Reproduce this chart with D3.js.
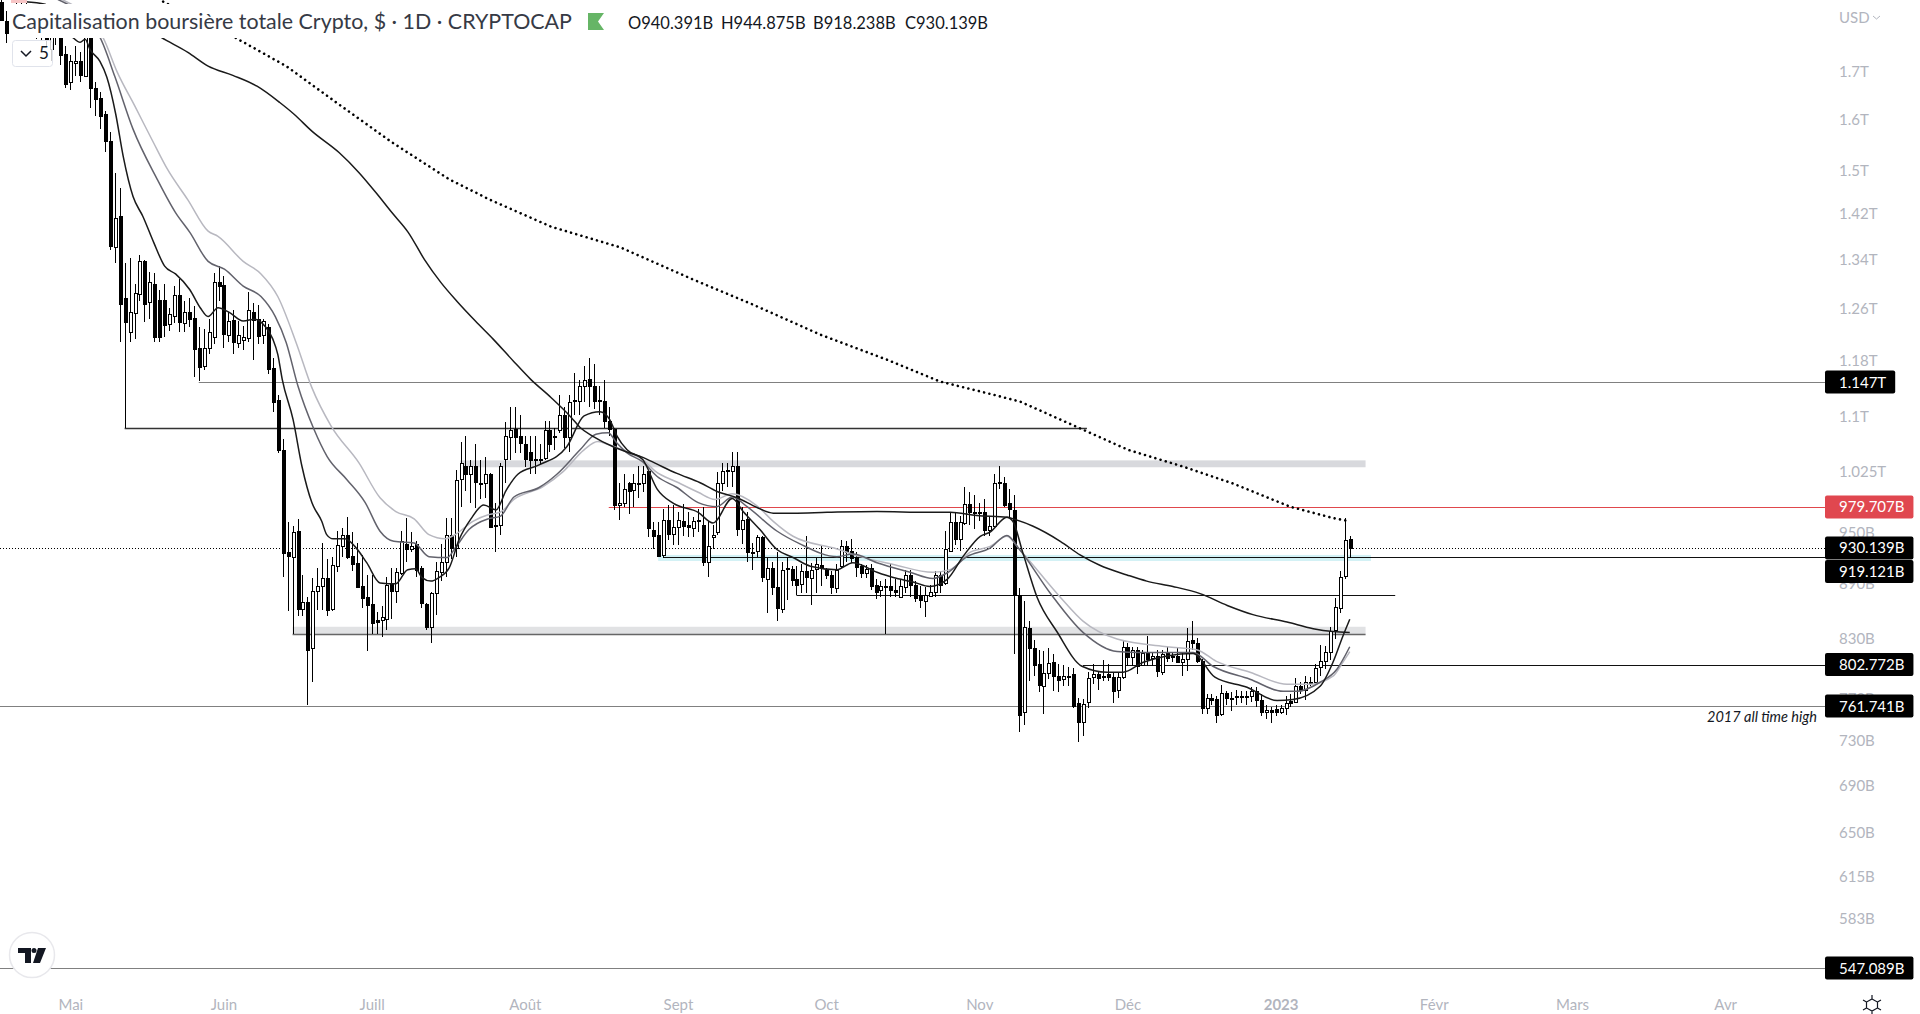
<!DOCTYPE html>
<html>
<head>
<meta charset="utf-8">
<title>Capitalisation boursière totale Crypto</title>
<script src="https://cdn.jsdelivr.net/npm/d3@7"></script>
<style>
  html, body { margin: 0; padding: 0; background: #fff; overflow: hidden; }
  svg { display: block; }
  text { font-family: Lato, "Open Sans", sans-serif; }
</style>
</head>
<body>
<script>
var w = 1920;
var h = 1014;

// Daily candles, first value is 14 days before 1 May 2022, last is 15 Jan 2023
var firstDay = -14;
var opens = [
  1855,1810,1792,1842,1801,1835,1790,1815,1782,1826,
  1746,1814,1803,1737,1675,1717,1722,1688,1792,1663,
  1643,1609,1555,1361,1414,1275,1222,1251,1281,1336,
  1268,1299,1273,1273,1234,1246,1280,1237,1254,1243,
  1197,1170,1197,1214,1301,1296,1218,1240,1206,1211,
  1214,1254,1242,1218,1229,1167,1122,1053,925,920,
  950,861,869,820,880,886,895,861,909,933,
  946,921,913,887,874,867,849,849,851,889,
  881,901,935,929,935,907,867,842,879,903,
  913,945,930,1015,1031,1020,1031,1010,1009,1021,
  956,957,1040,1070,1081,1071,1061,1050,1041,1041,
  1041,1079,1071,1079,1101,1071,1120,1119,1141,1151,
  1141,1121,1120,1092,1081,982,984,1010,1001,1010,
  1010,1025,952,946,921,963,946,955,962,957,
  954,963,957,913,944,949,1010,1025,1025,1031,
  952,965,926,926,943,895,907,885,862,906,
  906,894,888,903,896,905,910,905,899,885,
  909,932,927,920,909,902,907,888,881,886,
  887,882,874,886,899,888,877,869,876,880,
  899,890,926,961,941,960,983,973,973,973,
  951,956,1011,1010,984,976,877,756,841,820,
  803,781,794,805,791,788,791,793,765,747,
  765,790,793,791,793,790,777,790,821,811,
  818,803,815,809,811,796,816,811,811,805,
  808,828,825,806,760,770,769,754,774,770,
  771,771,771,771,776,768,756,758,759,756,
  760,767,765,781,777,785,785,800,807,816,
  838,863,897,940.391
];
var highs = [
  1860,1833,1846,1855,1855,1855,1846,1838,1832,1846,
  1832,1842,1826,1753,1735,1753,1740,1815,1805,1675,
  1654,1615,1573,1493,1465,1334,1341,1298,1346,1338,
  1319,1316,1289,1298,1260,1295,1306,1270,1276,1262,
  1229,1226,1242,1316,1328,1311,1254,1257,1239,1231,
  1285,1268,1265,1242,1234,1183,1128,1067,961,956,
  965,899,874,895,907,936,917,920,950,954,
  967,949,936,922,899,899,858,864,897,907,
  907,950,966,949,938,909,868,880,914,935,
  966,966,1027,1063,1071,1040,1061,1040,1043,1022,
  985,1036,1090,1111,1111,1101,1071,1071,1071,1061,
  1092,1092,1083,1129,1111,1129,1161,1150,1170,1182,
  1173,1141,1150,1111,1082,1010,1021,1011,1021,1031,
  1031,1026,961,961,977,982,982,974,983,973,
  967,977,980,962,958,1024,1035,1036,1050,1050,
  979,973,936,946,944,919,914,926,914,920,
  909,909,911,944,913,919,933,907,903,912,
  939,938,941,926,912,910,912,894,892,894,
  913,894,894,905,905,892,886,885,888,903,
  903,950,973,973,968,1004,998,995,985,990,
  968,1021,1031,1017,1002,995,884,870,848,828,
  818,817,820,813,803,802,800,799,770,769,
  795,803,796,807,803,795,795,828,825,821,
  821,818,832,816,818,818,821,816,821,815,
  841,848,830,808,773,773,771,782,776,775,
  777,776,776,780,780,773,763,761,763,763,
  771,773,789,785,791,790,803,823,822,842,
  873,903,966,944.875
];
var lows = [
  1810,1760,1778,1778,1785,1774,1776,1770,1768,1751,
  1720,1757,1712,1663,1658,1688,1675,1686,1621,1605,
  1579,1535,1356,1334,1206,1083,1206,1211,1270,1237,
  1242,1207,1207,1214,1223,1236,1222,1222,1229,1154,
  1148,1164,1188,1203,1270,1198,1206,1188,1198,1195,
  1207,1179,1203,1203,1159,1105,1049,897,859,834,
  853,854,763,785,860,860,853,859,902,920,
  917,903,885,862,817,834,834,831,839,850,
  868,899,914,925,897,862,839,825,855,892,
  897,917,920,979,1000,985,978,990,991,954,
  925,946,1010,1040,1049,1049,1030,1021,1021,1034,
  1039,1050,1053,1076,1056,1050,1101,1101,1119,1112,
  1108,1101,1082,1071,976,963,979,971,979,991,
  998,943,929,920,919,940,934,934,944,943,
  943,949,909,897,929,946,1000,1005,1005,944,
  935,914,905,920,891,857,876,848,857,871,
  886,877,879,879,866,879,887,894,878,879,
  907,914,913,897,895,896,882,872,874,834,
  874,874,873,879,874,869,862,852,874,874,
  879,888,925,934,927,958,958,953,962,944,
  944,955,1002,980,967,813,737,744,786,791,
  775,754,788,776,775,781,781,760,728,733,
  760,783,777,786,786,765,770,788,801,801,
  793,801,801,801,790,792,805,805,804,791,
  796,818,804,754,754,763,746,752,763,757,
  763,765,763,766,761,752,749,746,752,754,
  753,761,765,773,768,781,782,791,798,807,
  829,857,894,918.238
];
var closes = [
  1814,1782,1826,1796,1837,1790,1815,1785,1810,1769,
  1803,1773,1733,1673,1720,1721,1692,1792,1663,1641,
  1607,1555,1361,1411,1265,1237,1253,1283,1336,1265,
  1301,1215,1215,1234,1250,1280,1237,1254,1243,1195,
  1169,1197,1222,1301,1295,1218,1239,1206,1218,1215,
  1257,1242,1215,1239,1166,1118,1053,925,920,949,
  861,869,818,881,886,895,860,910,934,946,
  920,912,886,874,865,846,847,852,888,881,
  902,938,929,933,905,868,842,879,904,914,
  945,930,1014,1036,1020,1031,1010,1009,1021,955,
  957,1031,1071,1079,1070,1061,1041,1040,1041,1040,
  1079,1060,1070,1100,1071,1119,1121,1141,1150,1141,
  1120,1120,1092,1081,982,984,1002,1000,1010,1009,
  1021,954,945,921,963,946,955,963,956,954,
  962,964,913,932,946,1010,1025,1026,1031,952,
  963,926,925,943,896,907,885,862,905,907,
  893,887,903,896,905,911,906,899,885,905,
  932,925,919,909,901,906,887,880,886,887,
  882,880,886,899,888,874,871,876,880,899,
  888,929,961,941,961,983,973,972,974,951,
  956,1010,1010,982,976,877,754,842,820,803,
  782,794,804,791,787,791,791,762,747,764,
  789,793,789,791,790,776,790,821,811,818,
  802,815,809,811,796,814,810,810,805,808,
  827,825,806,760,770,768,754,774,769,770,
  771,771,770,776,767,756,758,756,756,760,
  765,765,781,777,785,785,799,806,816,838,
  863,897,939,930.139
];

// Moving averages, read at irregular days (days counted from 1 May 2022)
var fastDays = [-9.2,-5.1,-2.1,0.5,2,3,4,6,7.4,9.2,10.7,12.7,14.7,16.9,19.1,21.3,24.2,26.3,27.9,29.9,32.1,35,37.4,39.4,41,42,42.9,45.1,46.9,48.9,50.9,51.9,53.2,55.6,57.6,60,62.7,65.9,68.3,69.9,71.2,73,74.6,76.7,78.7,81.1,83.7,86.2,88.2,90.6,94.9,100.5,104,107.2,109.2,110.7,112.7,115.9,118.8,122.1,127.1,130.1,134,136.2,139.6,143.1,146.3,149.8,155.2,158.4,163.3,166.6,170.6,174,177.5,180.7,184.2,186.2,189.6,190.8,192.8,195.7,199.7,204.8,209.9,213.1,217.2,227.3,231.7,238.2,244.3,247.5,253,255.6,257.6,259];
var fastValues = [1855,1849,1810,1773,1762,1769,1746,1720,1686,1609,1526,1450,1414,1368,1328,1315,1289,1260,1246,1260,1253,1239,1242,1231,1211,1188,1151,1094,1031,985,962,946,941,941,932,913,890,889,905,906,896,892,896,907,940,965,982,976,1000,1021,1033,1057,1099,1105,1094,1071,1053,1040,1002,984,973,960,990,974,952,928,919,909,905,913,902,896,891,886,894,920,944,949,967,962,925,874,837,801,795,795,805,814,790,780,767,768,781,805,832,850];

var midDays = [-2.5,6,9,12.7,17.6,21.3,24.2,27.9,31.2,35,38.6,41.5,43.7,46.1,49.3,52,56,59.7,62.7,65.5,69.6,72.6,76.3,77.9,80.7,84.6,87,89.8,94.9,98.5,103.2,106.4,108.9,110.5,112.7,115.9,118.8,122.8,127.1,130.9,134,137,143.1,147.7,155.2,158.4,163.3,170,174.6,177.7,181.5,186.2,189.6,192.2,198.3,205,211.9,216.5,227.3,231.3,238.8,245.5,248.3,253,256.4,259];
var midValues = [1860,1773,1688,1579,1482,1421,1386,1336,1323,1295,1278,1246,1206,1141,1081,1044,1014,985,950,938,936,920,919,930,952,965,968,992,1004,1021,1053,1074,1076,1063,1049,1037,1018,1004,985,980,992,980,950,935,920,923,913,902,895,902,920,930,945,928,879,836,816,815,815,801,788,776,776,785,798,821];

var slowDays = [-1.7,6.6,9.5,13.1,16.8,19.6,23.8,27.9,29.9,35,38.6,42,45.7,48.9,52.8,58.4,62.7,65.9,69.6,72.6,75.9,77.9,81.5,84.6,87,89.8,95.7,99.7,104,106.8,108.9,112.7,115.9,118.4,122.8,127.1,130.5,134,139,142.3,146.3,155.2,159.9,166.6,174.6,178.1,182.1,186.2,189.6,192.2,200.4,205,211.9,222,228,232,238.8,246.3,251,255.6,257.6,259];
var slowValues = [1860,1773,1697,1625,1553,1502,1444,1388,1379,1336,1315,1278,1206,1139,1085,1036,991,974,965,946,941,946,962,970,973,989,1005,1024,1053,1064,1060,1050,1040,1025,1011,998,989,996,981,962,944,929,920,911,902,905,925,932,944,928,874,848,829,821,818,806,795,783,783,791,805,816];

var ma100Days = [10,18.4,23.8,27.9,32.9,37.8,42.4,45.3,48.9,54.4,58.4,61.9,65.1,68.4,71.7,75,78.3,82,85.6,89.8,93.2,97.3,101.4,103.2,105.8,109.9,112.7,115.9,118.8,122.8,127.5,130.9,135,139,142.3,146.3,153.2,163.3,173.4,178.1,183.5,189.6,190.8,194.9,200.4,204.4,208.4,213.9,217.9,223.2,228.7,234.2,239.4,246.3,251.6,255.6,259];
var ma100Values = [1837,1773,1740,1710,1690,1667,1633,1609,1575,1533,1495,1457,1421,1386,1339,1301,1270,1239,1211,1177,1151,1125,1097,1083,1071,1057,1050,1043,1034,1022,1010,999,991,979,972,972,973,974,973,973,969,967,965,956,938,922,910,899,892,886,878,865,855,847,840,837,836];

var ma200Days = [18.8,33.3,43.7,54.4,65.1,76.7,85,97.3,111.3,126,138.2,151.8,165.3,176,186.8,192.3,200.4,214.1,225.2,235.4,246.9,255.6,259];
var ma200Values = [1855,1773,1710,1629,1553,1482,1444,1396,1360,1306,1265,1218,1180,1148,1129,1119,1094,1053,1031,1009,980,966,962];

// Drawn horizontal levels (days from 1 May 2022)
var levelPrices = [1147, 1083, 877, 834, 802.772, 761.741, 547.089];
var levelStart = [26, 11, 147, 45, 205, -15, -15];
var levelEnd = [355.2, 205.8, 268.2, 262.2, 355.2, 355.2, 355.2];
var redLevel = [979.707, 109, 355.2];
var blackLevel = [919.121, 120, 355.2];
var bandTops = [1039, 922, 842];
var bandBottoms = [1030, 915, 834];
var bandStart = [78.9, 119, 45];
var bandEnd = [262.2, 263.3, 262.2];

// Axis labels
var priceTicks = [1700,1600,1500,1420,1340,1260,1180,1100,1025,950,890,830,770,730,690,650,615,583,550];
var priceTickLabels = ["1.7T","1.6T","1.5T","1.42T","1.34T","1.26T","1.18T","1.1T","1.025T","950B","890B","830B","770B","730B","690B","650B","615B","583B","550B"];
var monthDays = [0,31,61,92,123,153,184,214,245,276,304,335];
var monthLabels = ["Mai","Juin","Juill","Août","Sept","Oct","Nov","Déc","2023","Févr","Mars","Avr"];
var tagPrices = [1147, 979.707, 930.139, 919.121, 802.772, 761.741, 547.089];
var tagLabels = ["1.147T","979.707B","930.139B","919.121B","802.772B","761.741B","547.089B"];
var ohlcLabels = ["O940.391B","H944.875B","B918.238B","C930.139B"];

var xScale = d3.scaleLinear().domain([0, 245]).range([70.3, 1280.6]);
var yScale = d3.scaleLog().domain([547.089, 1700]).range([968, 70.7]);

var svg = d3.select("body").append("svg")
    .attr("width", w)
    .attr("height", h);

// Price and month axes
var yAxis = d3.axisRight(yScale)
    .tickValues(priceTicks)
    .tickSize(0)
    .tickPadding(0)
    .tickFormat(function(d, i) { return priceTickLabels[i]; });
var yAxisG = svg.append("g")
    .attr("transform", "translate(1839,1)")
    .call(yAxis);
yAxisG.select(".domain").remove();
yAxisG.selectAll("text")
    .attr("fill", "#b2b5be")
    .style("font-size", "15px")
    .style("font-family", "Lato");

var xAxis = d3.axisBottom(xScale)
    .tickValues(monthDays)
    .tickSize(0)
    .tickPadding(0)
    .tickFormat(function(d, i) { return monthLabels[i]; });
var xAxisG = svg.append("g")
    .attr("transform", "translate(0,1005)")
    .call(xAxis);
xAxisG.select(".domain").remove();
xAxisG.selectAll("text")
    .attr("fill", "#b2b5be")
    .attr("dy", "0.32em")
    .style("font-size", "15px")
    .style("font-family", "Lato")
    .style("font-weight", function(d) { return d === 245 ? "700" : "400"; });

// Shaded zones
var bandColors = ["#d8d9dd", "#d2f1f5", "#e1e2e4"];
svg.selectAll(".band")
    .data(bandTops)
    .join("rect")
    .attr("class", "band")
    .attr("x", function(d, i) { return xScale(bandStart[i]); })
    .attr("y", function(d) { return yScale(d); })
    .attr("width", function(d, i) { return xScale(bandEnd[i]) - xScale(bandStart[i]); })
    .attr("height", function(d, i) { return yScale(bandBottoms[i]) - yScale(d); })
    .attr("fill", function(d, i) { return bandColors[i]; });

// Horizontal levels
var levelColors = ["#808080", "#333333", "#111111", "#666666", "#111111", "#808080", "#808080"];
svg.selectAll(".level")
    .data(levelPrices)
    .join("line")
    .attr("class", "level")
    .attr("x1", function(d, i) { return xScale(levelStart[i]); })
    .attr("x2", function(d, i) { return xScale(levelEnd[i]); })
    .attr("y1", function(d) { return Math.round(yScale(d)) + 0.5; })
    .attr("y2", function(d) { return Math.round(yScale(d)) + 0.5; })
    .attr("stroke", function(d, i) { return levelColors[i]; })
    .attr("stroke-width", function(d, i) { return i === 1 || i === 3 ? 1.5 : 1; });

svg.append("line")
    .attr("x1", xScale(redLevel[1]))
    .attr("x2", xScale(redLevel[2]))
    .attr("y1", Math.round(yScale(redLevel[0])) + 0.5)
    .attr("y2", Math.round(yScale(redLevel[0])) + 0.5)
    .attr("stroke", "#e0474c");

svg.append("line")
    .attr("x1", xScale(blackLevel[1]))
    .attr("x2", xScale(blackLevel[2]))
    .attr("y1", Math.round(yScale(blackLevel[0])) + 0.5)
    .attr("y2", Math.round(yScale(blackLevel[0])) + 0.5)
    .attr("stroke", "#111111");

// Last price line
svg.append("line")
    .attr("x1", 0)
    .attr("x2", 1825)
    .attr("y1", Math.round(yScale(closes[closes.length - 1])) + 0.5)
    .attr("y2", Math.round(yScale(closes[closes.length - 1])) + 0.5)
    .attr("stroke", "#000")
    .attr("stroke-dasharray", "1,2");

// Candles
var candles = svg.append("g").attr("shape-rendering", "crispEdges");
opens.forEach(function(o, i) {
    var c = closes[i];
    var cx = Math.round(xScale(firstDay + i)) + 0.5;
    candles.append("line")
        .attr("x1", cx)
        .attr("x2", cx)
        .attr("y1", yScale(highs[i]))
        .attr("y2", yScale(lows[i]))
        .attr("stroke", "#000");
    var top = yScale(Math.max(o, c));
    var bottom = yScale(Math.min(o, c));
    candles.append("rect")
        .attr("x", cx - 1.5)
        .attr("y", Math.round(top) + 0.5)
        .attr("width", 3)
        .attr("height", Math.max(1, Math.round(bottom - top)))
        .attr("fill", c >= o ? "#fff" : "#000")
        .attr("stroke", "#000");
});

// Moving averages
function drawLine(days, values, color, width, dash, curve) {
    var line = d3.line()
        .x(function(d, i) { return xScale(days[i]); })
        .y(function(d) { return yScale(d); })
        .curve(curve);
    svg.append("path")
        .attr("d", line(values))
        .attr("fill", "none")
        .attr("stroke", color)
        .attr("stroke-width", width)
        .attr("stroke-linecap", dash ? "round" : "butt")
        .attr("stroke-dasharray", dash);
}
drawLine(slowDays, slowValues, "#b8b8c0", 1.5, null, d3.curveMonotoneX);
drawLine(midDays, midValues, "#62626c", 1.5, null, d3.curveMonotoneX);
drawLine(ma100Days, ma100Values, "#1a1a1a", 1.5, null, d3.curveMonotoneX);
drawLine(fastDays, fastValues, "#1a1a1a", 1.5, null, d3.curveMonotoneX);
drawLine(ma200Days, ma200Values, "#000", 2.6, "0.01,5.4", d3.curveLinear);

// Note on the 2017 high
svg.append("text")
    .attr("x", 1707)
    .attr("y", yScale(761.741) + 16)
    .attr("fill", "#131722")
    .style("font-size", "14.5px")
    .style("font-style", "italic")
    .text("2017 all time high");

// Price tags, pushed down when they would overlap
var lastBottom = -100;
tagPrices.forEach(function(p, i) {
    var cy = Math.max(yScale(p), lastBottom + 12);
    lastBottom = cy + 11.5;
    var g = svg.append("g");
    var rect = g.append("rect")
        .attr("x", 1825)
        .attr("y", cy - 11.5)
        .attr("height", 23)
        .attr("rx", 2)
        .attr("fill", p === redLevel[0] ? "#e0474f" : "#000");
    var label = g.append("text")
        .attr("x", 1839)
        .attr("y", cy + 5.5)
        .attr("fill", "#fff")
        .style("font-size", "15px")
        .text(tagLabels[i]);
    rect.attr("width", label.node().getComputedTextLength() + 23);
});

// Legend strip
svg.append("rect")
    .attr("x", 10)
    .attr("y", 4)
    .attr("width", 600)
    .attr("height", 34)
    .attr("fill", "#fff");
svg.append("text")
    .attr("x", 12)
    .attr("y", 29)
    .attr("fill", "#363a45")
    .style("font-size", "21px")
    .attr("textLength", 560)
    .attr("lengthAdjust", "spacingAndGlyphs")
    .text("Capitalisation boursière totale Crypto, $ · 1D · CRYPTOCAP");
svg.append("path")
    .attr("d", "M588 13H604L598 21.5L604 30H588Z")
    .attr("fill", "#66b566");
var ohlcX = [628, 721, 813, 905];
ohlcLabels.forEach(function(t, i) {
    svg.append("text")
        .attr("x", ohlcX[i])
        .attr("y", 29)
        .attr("fill", "#131722")
        .style("font-size", "16.5px")
        .text(t);
});

// Collapse button
svg.append("rect")
    .attr("x", 12.5)
    .attr("y", 40.5)
    .attr("width", 40)
    .attr("height", 26)
    .attr("rx", 3)
    .attr("fill", "rgba(255,255,255,0.8)")
    .attr("stroke", "#e0e3eb");
svg.append("path")
    .attr("d", "M21 51L26 56L31 51")
    .attr("fill", "none")
    .attr("stroke", "#131722")
    .attr("stroke-width", 1.5);
svg.append("text")
    .attr("x", 39)
    .attr("y", 59)
    .attr("fill", "#131722")
    .style("font-size", "17px")
    .text("5");

// Currency label
svg.append("text")
    .attr("x", 1839)
    .attr("y", 23)
    .attr("fill", "#b2b5be")
    .style("font-size", "15px")
    .text("USD");
svg.append("path")
    .attr("d", "M1873 16L1876.5 19L1880 16")
    .attr("fill", "none")
    .attr("stroke", "#b2b5be");

// Logo
svg.append("circle")
    .attr("cx", 32)
    .attr("cy", 955)
    .attr("r", 22.5)
    .attr("fill", "#fff")
    .attr("stroke", "#e8e8ec")
    .attr("stroke-width", 1.5);
svg.append("path")
    .attr("d", "M18 948H31V963H25V953H18Z M38 948H46L40 963H33Z")
    .attr("fill", "#131722");
svg.append("circle")
    .attr("cx", 34)
    .attr("cy", 950.5)
    .attr("r", 2.5)
    .attr("fill", "#131722");

// Settings icon
svg.append("path")
    .attr("d", "M1872 995V999 M1872 1011V1015 M1863 1000L1866.5 1002 M1881 1000L1877.5 1002 M1863 1010L1866.5 1008 M1881 1010L1877.5 1008 M1872 999L1877.5 1002V1008L1872 1011L1866.5 1008V1002Z")
    .attr("fill", "none")
    .attr("stroke", "#131722")
    .attr("stroke-width", 1.2);

// Pink drawing clipped at the top
svg.append("rect")
    .attr("x", xScale(-12))
    .attr("y", 0)
    .attr("width", 16)
    .attr("height", 3)
    .attr("fill", "#f7c5c5");
</script>
</body>
</html>
